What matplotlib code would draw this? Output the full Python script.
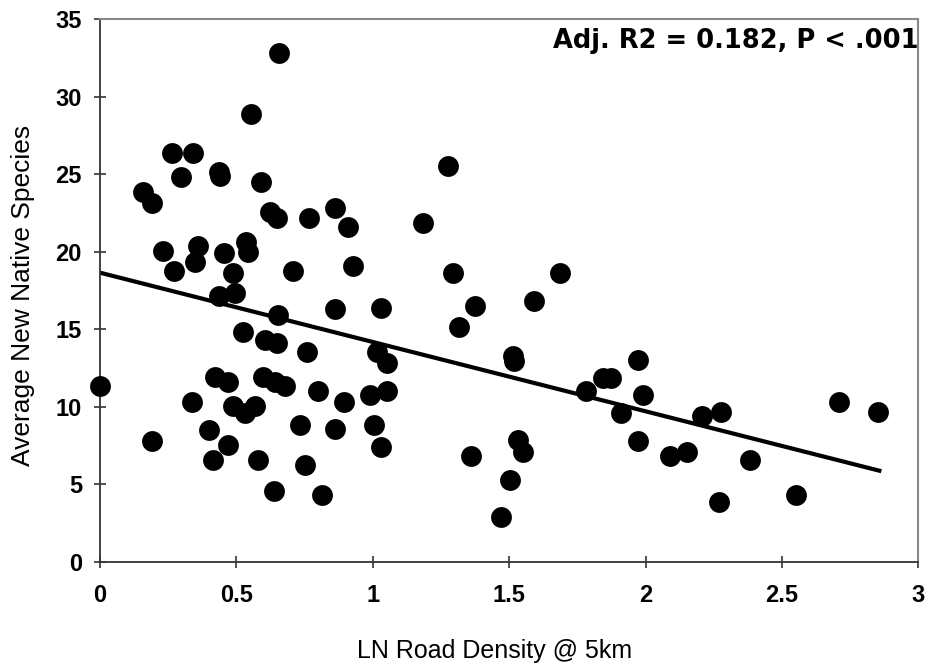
import matplotlib
matplotlib.use("Agg")
import matplotlib.pyplot as plt

# road density (ln, 5 km) vs average new native species
road_density = [
    0.00, 0.159, 0.192, 0.190, 0.232, 0.263, 0.271, 0.296, 0.342, 0.336,
    0.348, 0.358, 0.400, 0.415, 0.422, 0.436, 0.440, 0.455, 0.436, 0.495,
    0.486, 0.470, 0.470, 0.489, 0.532, 0.568, 0.525, 0.535, 0.544, 0.554,
    0.589, 0.580, 0.605, 0.648, 0.599, 0.641, 0.678, 0.638, 0.623, 0.648,
    0.656, 0.654, 0.709, 0.733, 0.758, 0.751, 0.766, 0.798, 0.815, 0.861,
    0.861, 0.861, 0.894, 0.909, 0.927, 0.990, 1.006, 1.014, 1.030, 1.032,
    1.053, 1.053, 1.184, 1.277, 1.294, 1.316, 1.375, 1.359, 1.470, 1.503,
    1.514, 1.518, 1.532, 1.551, 1.591, 1.686, 1.781, 1.844, 1.873, 1.910,
    1.972, 1.991, 1.972, 2.089, 2.152, 2.207, 2.277, 2.383, 2.269, 2.551,
    2.709, 2.852,
]
native_species = [
    11.33, 23.86, 23.15, 7.78, 20.06, 26.34, 18.77, 24.79, 26.38, 10.32,
    19.31, 20.36, 8.49, 6.56, 11.93, 25.13, 24.87, 19.89, 17.14, 17.35,
    18.60, 11.61, 7.53, 10.06, 9.57, 10.04, 14.83, 20.64, 19.99, 28.90,
    24.51, 6.56, 14.30, 14.08, 11.93, 11.61, 11.33, 4.58, 22.57, 22.15,
    32.81, 15.91, 18.77, 8.82, 13.54, 6.24, 22.17, 11.03, 4.30, 22.81,
    8.54, 16.30, 10.32, 21.59, 19.07, 10.75, 8.82, 13.54, 16.36, 7.38,
    11.03, 12.83, 21.84, 25.52, 18.62, 15.14, 16.49, 6.82, 2.88, 5.27,
    13.27, 12.94, 7.85, 7.07, 16.81, 18.62, 11.01, 11.85, 11.85, 9.59,
    13.01, 10.75, 7.78, 6.82, 7.07, 9.40, 9.65, 6.56, 3.85, 4.30,
    10.30, 9.65,
]

# linear trend line as drawn on the chart
trend_x = [0.0, 2.857]
trend_y = [18.64, 5.87]

stat_text = "Adj. R2 = 0.182, P < .001"

plt.rcParams["font.family"] = ["Liberation Sans", "DejaVu Sans"]

fig = plt.figure(figsize=(9.26, 6.71), dpi=100)
ax = fig.add_axes([100 / 926, 1 - 561.7 / 671, 818.3 / 926, 542.7 / 671])

ax.scatter(road_density, native_species, s=225, color="black",
           linewidths=0, zorder=3, clip_on=False)
ax.plot(trend_x, trend_y, color="black", linewidth=3, zorder=2)

ax.set_xlim(0, 3)
ax.set_ylim(0, 35)
ax.set_xticks([0, 0.5, 1, 1.5, 2, 2.5, 3])
ax.set_xticklabels(["0", "0.5", "1", "1.5", "2", "2.5", "3"])
ax.set_yticks(range(0, 36, 5))

ax.tick_params(axis="both", direction="inout", length=8, width=1.2,
               color="#333333", labelsize=17)
ax.tick_params(axis="x", pad=12)
ax.tick_params(axis="y", pad=9)
for lab in ax.get_xticklabels() + ax.get_yticklabels():
    lab.set_fontweight("bold")

for side in ["left", "bottom"]:
    ax.spines[side].set_color("#333333")
    ax.spines[side].set_linewidth(1.3)
for side in ["top", "right"]:
    ax.spines[side].set_color("#888888")
    ax.spines[side].set_linewidth(1.5)

ax.set_xlabel("LN Road Density @ 5km", fontsize=18)
ax.xaxis.set_label_coords(0.482, -0.143)
ax.set_ylabel("Average New Native Species", fontsize=19)
ax.yaxis.set_label_coords(-0.080, 0.491)

ax.text(1.0, 0.9466, stat_text, transform=ax.transAxes, ha="right",
        va="baseline", fontsize=18.5, fontweight="bold",
        family="DejaVu Sans")

fig.savefig("out.png", dpi=100)
